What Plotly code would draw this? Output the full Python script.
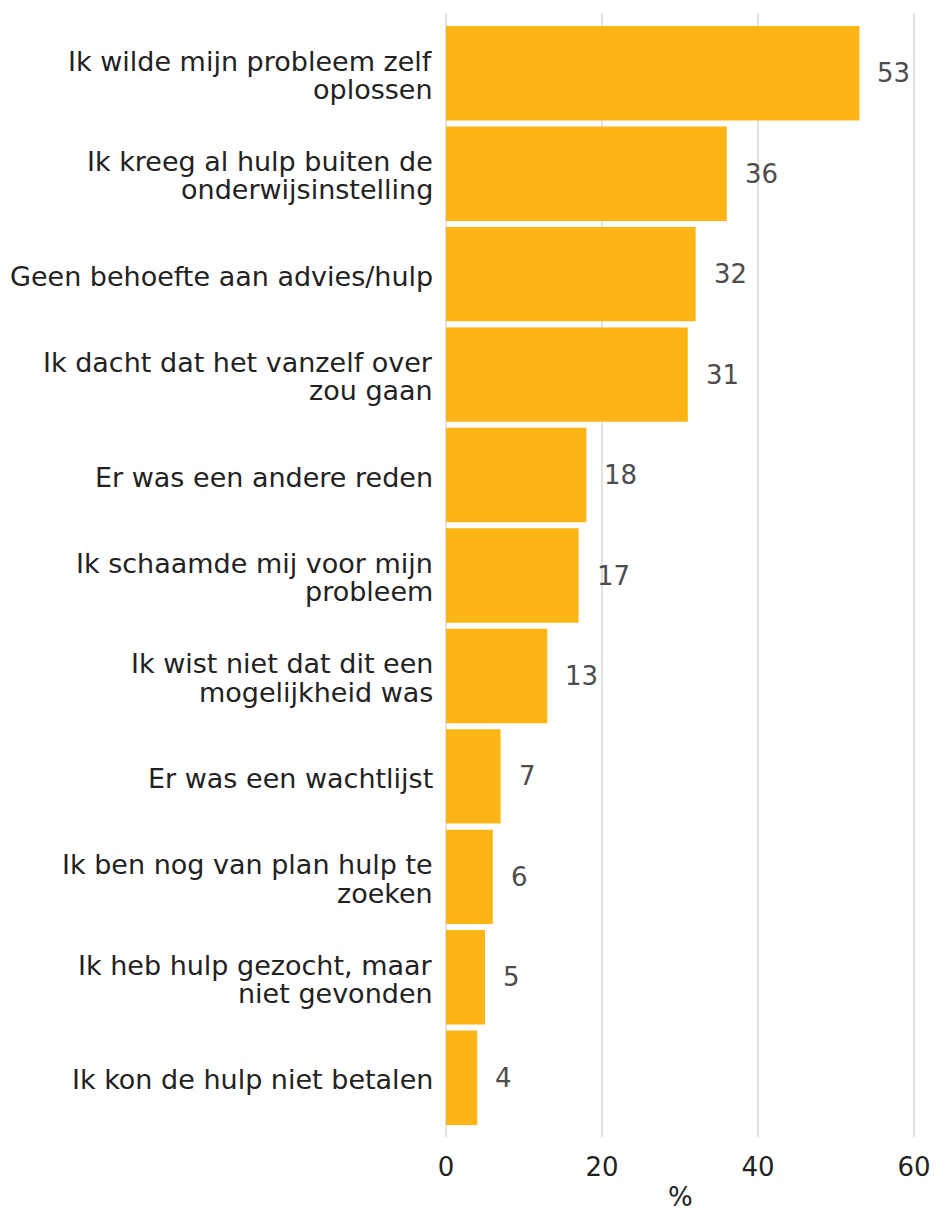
import plotly.graph_objects as go

# Reasons for not seeking help (percent of respondents)
reasons = [
    "Ik wilde mijn probleem zelf\noplossen",
    "Ik kreeg al hulp buiten de\nonderwijsinstelling",
    "Geen behoefte aan advies/hulp",
    "Ik dacht dat het vanzelf over\nzou gaan",
    "Er was een andere reden",
    "Ik schaamde mij voor mijn\nprobleem",
    "Ik wist niet dat dit een\nmogelijkheid was",
    "Er was een wachtlijst",
    "Ik ben nog van plan hulp te\nzoeken",
    "Ik heb hulp gezocht, maar\nniet gevonden",
    "Ik kon de hulp niet betalen",
]
percentages = [53, 36, 32, 31, 18, 17, 13, 7, 6, 5, 4]
x_ticks = [0, 20, 40, 60]

FONT = "DejaVu Sans"
LABEL_SIZE = 27
NUM_SIZE = 26
BAR_COLOR = "#FDB515"
LINE_GAP = 28.5  # px between wrapped label lines

fig = go.Figure()
fig.add_trace(go.Bar(
    x=percentages,
    y=reasons,
    orientation="h",
    marker=dict(color=BAR_COLOR, line=dict(width=0)),
    hoverinfo="skip",
))

for r, v in zip(reasons, percentages):
    # value label to the right of each bar
    fig.add_annotation(
        x=v, y=r, xref="x", yref="y",
        text=str(v), showarrow=False,
        xanchor="left", yanchor="middle", xshift=16,
        font=dict(family=FONT, size=NUM_SIZE, color="#4d4d4d"),
    )
    # category label, right-aligned, one annotation per line
    lines = r.split("\n")
    n = len(lines)
    for i, line in enumerate(lines):
        offset = ((n - 1) / 2 - i) * LINE_GAP - 2
        fig.add_annotation(
            x=0, y=r, xref="paper", yref="y",
            text=line, showarrow=False,
            xanchor="right", yanchor="middle",
            xshift=-9, yshift=offset,
            font=dict(family=FONT, size=LABEL_SIZE, color="#222222"),
        )

# axis title
fig.add_annotation(
    x=30, y=0, xref="x", yref="paper",
    text="%", showarrow=False,
    xanchor="center", yanchor="middle", yshift=-60,
    font=dict(family=FONT, size=NUM_SIZE, color="#222222"),
)

fig.update_layout(
    width=951, height=1211,
    margin=dict(l=444, r=0, t=13, b=74),
    paper_bgcolor="white", plot_bgcolor="white",
    bargap=0.06,
    showlegend=False,
    font=dict(family=FONT, size=NUM_SIZE, color="#222222"),
)
fig.update_xaxes(
    range=[-0.256, 64.74],
    tickvals=x_ticks,
    showgrid=True, gridcolor="#e3e3e3", gridwidth=2,
    zeroline=False, showline=False, ticks="",
    ticklabelstandoff=12,
    tickfont=dict(family=FONT, size=NUM_SIZE, color="#222222"),
)
fig.update_yaxes(
    categoryorder="array", categoryarray=reasons,
    range=[10.59, -0.60],
    showgrid=False, zeroline=False, showline=False, ticks="",
    showticklabels=False,
)

fig.write_html("out.html")
